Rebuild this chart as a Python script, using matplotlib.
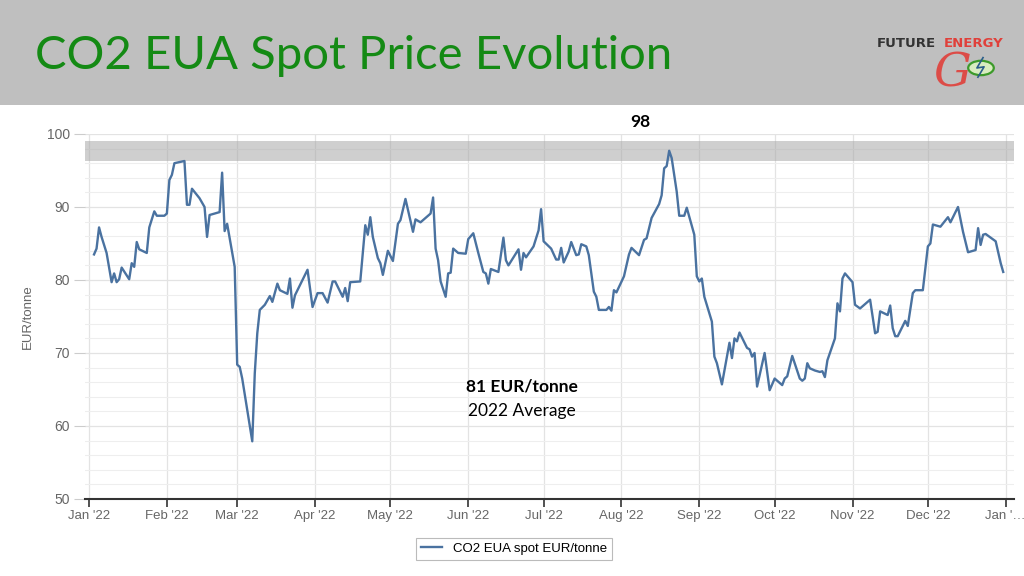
import numpy as np
import pandas as pd
import matplotlib
matplotlib.use("Agg")
import matplotlib.pyplot as plt
from matplotlib.patches import Rectangle, Circle
from matplotlib.lines import Line2D

# day of year 2022 (0 = 1 Jan) and EUA spot price, EUR/tonne
days = [2, 3, 4, 5, 7, 9, 10, 11, 12, 13, 16, 17, 18, 19, 20, 23, 24, 26, 27, 30,
        31, 32, 33, 34, 38, 39, 40, 41, 44, 46, 47, 48, 52, 53, 54, 55, 58, 59, 60, 61,
        65, 66, 67, 68, 70, 72, 73, 75, 76, 79, 80, 81, 82, 87, 89, 91, 93, 95, 97, 98,
        101, 102, 103, 104, 108, 110, 111, 112, 113, 115, 116, 117, 119, 121, 123, 124, 126, 127, 129, 130,
        132, 134, 136, 137, 138, 139, 140, 142, 143, 144, 145, 147, 150, 151, 153, 155, 157, 158, 159, 160,
        163, 165, 166, 167, 171, 172, 173, 174, 177, 179, 180, 181, 184, 186, 187, 188, 189, 191, 192, 194,
        195, 196, 198, 199, 201, 202, 203, 206, 207, 208, 209, 210, 213, 215, 216, 219, 221, 222, 224, 227,
        228, 229, 230, 231, 232, 234, 235, 237, 238, 241, 242, 243, 244, 245, 248, 249, 250, 252, 255, 256,
        257, 258, 259, 262, 263, 264, 265, 266, 269, 271, 273, 276, 277, 278, 280, 283, 284, 285, 286, 287,
        289, 291, 292, 293, 294, 297, 298, 299, 300, 301, 304, 305, 307, 311, 313, 314, 315, 318, 319, 320,
        321, 322, 325, 326, 328, 329, 332, 334, 335, 336, 339, 342, 343, 346, 348, 350, 353, 354, 355, 356,
        357, 361, 363, 364]
price = [83.5, 84.3, 87.2, 85.9, 83.7, 79.7, 80.9, 79.7, 80.1, 81.7, 80.1, 82.3, 81.8, 85.2, 84.2, 83.7, 87.2, 89.4, 88.8, 88.8,
         89.1, 93.7, 94.4, 96.0, 96.3, 90.3, 90.3, 92.5, 91.2, 90.0, 85.9, 88.9, 89.3, 94.7, 86.7, 87.7, 81.8, 68.4, 68.1, 66.5,
         57.9, 67.2, 72.7, 75.9, 76.6, 77.8, 77.0, 79.5, 78.6, 78.1, 80.2, 76.2, 77.9, 81.4, 76.3, 78.2, 78.2, 76.9, 79.8, 79.8,
         77.7, 78.9, 77.1, 79.7, 79.8, 87.5, 86.2, 88.6, 85.9, 83.0, 82.3, 80.7, 84.0, 82.6, 87.7, 88.2, 91.1, 89.6, 86.6, 88.3,
         87.9, 88.5, 89.1, 91.3, 84.3, 82.7, 79.8, 77.7, 80.9, 81.0, 84.3, 83.7, 83.6, 85.6, 86.4, 83.7, 81.1, 80.9, 79.5, 81.5,
         81.1, 85.8, 82.7, 82.0, 84.2, 81.4, 83.7, 83.1, 84.6, 86.8, 89.7, 85.3, 84.3, 82.8, 82.8, 84.4, 82.4, 83.9, 85.2, 83.4,
         83.5, 84.9, 84.6, 83.4, 78.4, 77.7, 75.9, 75.9, 76.3, 75.8, 78.6, 78.3, 80.5, 83.5, 84.4, 83.4, 85.5, 85.7, 88.5, 90.4,
         91.6, 95.3, 95.6, 97.7, 96.7, 92.1, 88.8, 88.8, 89.9, 86.2, 80.5, 79.8, 80.2, 77.7, 74.3, 69.5, 68.6, 65.7, 71.4, 69.3,
         72.0, 71.6, 72.8, 70.7, 70.5, 69.5, 70.0, 65.4, 70.0, 64.9, 66.5, 65.6, 66.5, 66.8, 69.6, 66.5, 66.2, 66.5, 68.6, 67.9,
         67.6, 67.4, 67.5, 66.7, 69.0, 72.0, 76.8, 75.7, 80.2, 80.9, 79.7, 76.6, 76.1, 77.3, 72.7, 72.9, 75.7, 75.2, 76.5, 73.4,
         72.3, 72.3, 74.4, 73.7, 78.2, 78.6, 78.6, 84.6, 85.0, 87.6, 87.3, 88.6, 87.9, 90.0, 86.6, 83.8, 84.1, 87.1, 84.8, 86.2,
         86.3, 85.3, 82.3, 81.1]

month_ticks = pd.date_range("2022-01-01", "2023-01-01", freq="MS")
month_labels = ["Jan '22", "Feb '22", "Mar '22", "Apr '22", "May '22", "Jun '22", "Jul '22",
                "Aug '22", "Sep '22", "Oct '22", "Nov '22", "Dec '22", "Jan '\u2026"]

peak_label = "98"
avg_value = "81 EUR/tonne"
avg_label = "2022 Average"
band_low, band_high = 96.3, 99.0

start = pd.Timestamp("2022-01-01")
dates = start + pd.to_timedelta(days, unit="D")

fig = plt.figure(figsize=(10.24, 5.76), dpi=100)
fig.patch.set_facecolor("white")

# header bar
fig.patches.append(Rectangle((0, 0.8177), 1, 0.1823, transform=fig.transFigure,
                             facecolor="#bfbfbf", edgecolor="none", zorder=0))
fig.text(0.034, 0.903, "CO2 EUA Spot Price Evolution", color="#148a14",
         fontsize=34, family="Lato", va="center", ha="left")

# logo (rough)
fig.text(0.912, 0.872, "G", color="#e0403a", fontsize=34, family="DejaVu Serif",
         style="italic", va="center", ha="left", alpha=0.9)
fig.text(0.856, 0.925, "FUTURE", color="#333333", fontsize=9.5, family="DejaVu Sans",
         weight="bold", va="center", ha="left")
fig.text(0.922, 0.925, "ENERGY", color="#e0403a", fontsize=9.5, family="DejaVu Sans",
         weight="bold", va="center", ha="left")
fig.patches.append(Circle((0.958, 0.882), 0.0125, transform=fig.transFigure,
                          facecolor="#d8ecc0", edgecolor="#3c9a2a", linewidth=1.6))
fig.lines.append(Line2D([0.960, 0.954, 0.961, 0.955], [0.900, 0.882, 0.884, 0.866],
                        transform=fig.transFigure, color="#2a5d8a", linewidth=1.2))

ax = fig.add_axes([0.083, 0.1337, 0.907, 0.6337])
ax.plot(dates, price, color="#4a72a0", linewidth=1.7, zorder=3,
        label="CO2 EUA spot EUR/tonne")
ax.axhspan(band_low, band_high, color="#a8a8a8", alpha=0.55, linewidth=0, zorder=2)

ax.set_ylim(50, 100)
ax.set_xlim(start - pd.Timedelta(days=1.6), start + pd.Timedelta(days=368.2))
ax.set_yticks(np.arange(50, 101, 10))
ax.set_yticks(np.arange(50, 101, 2), minor=True)
ax.set_xticks(month_ticks)
ax.set_xticklabels(month_labels)
ax.grid(True, which="major", axis="both", color="#e3e3e3", linewidth=0.9, zorder=0)
ax.grid(True, which="minor", axis="y", color="#eeeeee", linewidth=0.8, zorder=0)
ax.tick_params(axis="y", which="major", length=8, color="#cccccc", labelcolor="#666666",
               labelsize=10, pad=3)
ax.tick_params(axis="y", which="minor", length=0)
ax.tick_params(axis="x", length=6, color="#333333", labelcolor="#666666", labelsize=9.5,
               direction="out", width=1.2, pad=2)
for lab in ax.get_xticklabels() + ax.get_yticklabels():
    lab.set_family("Liberation Sans")
for s in ["top", "right", "left"]:
    ax.spines[s].set_visible(False)
ax.spines["bottom"].set_color("#333333")
ax.spines["bottom"].set_linewidth(1.5)
ax.set_ylabel("EUR/tonne", color="#666666", fontsize=9.5, family="Liberation Sans", labelpad=9)

# annotations
ax.text(start + pd.Timedelta(days=219.7), 101.6, peak_label, ha="center", va="center",
        fontsize=12.5, weight="bold", family="Lato", clip_on=False)
ax.text(0.47, 0.307, avg_value, transform=ax.transAxes, ha="center", va="center",
        fontsize=12.5, weight="bold", family="Lato")
ax.text(0.47, 0.241, avg_label, transform=ax.transAxes, ha="center", va="center",
        fontsize=12.5, family="Lato")

leg = fig.legend(loc="center", bbox_to_anchor=(0.502, 0.047), frameon=True,
                 fancybox=False, edgecolor="#aaaaaa", handlelength=1.6,
                 prop={"family": "Liberation Sans", "size": 9.5})
leg.get_frame().set_linewidth(0.8)

fig.savefig("out.png", dpi=100)
